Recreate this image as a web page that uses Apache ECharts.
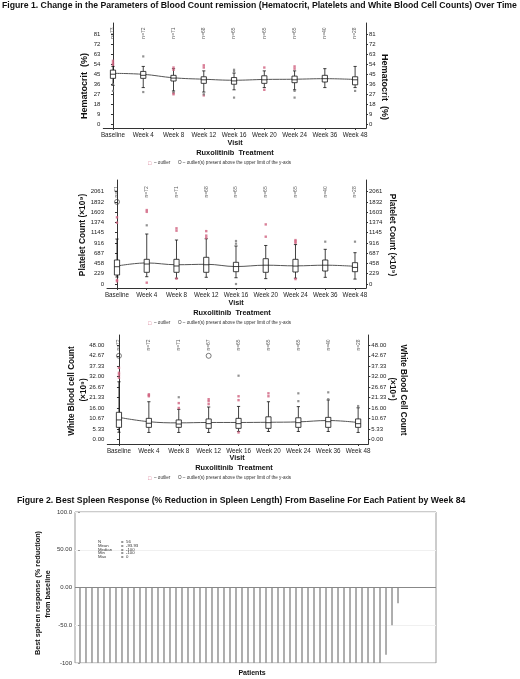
<!DOCTYPE html>
<html><head><meta charset="utf-8">
<script src="https://cdn.jsdelivr.net/npm/echarts@6/dist/echarts.min.js"></script>
<style>html,body{margin:0;padding:0;background:#fff}#c{width:520px;height:679px}</style>
</head><body><div id="c"></div>
<script>
// ---------- DATA ----------
const visits = ['Baseline','Week 4','Week 8','Week 12','Week 16','Week 20','Week 24','Week 36','Week 48'];

// Hematocrit (%) : [lowWhisker, Q1, median, Q3, highWhisker]
const hctBox = [[35,41.3,45,48.7,52],[33,41.3,44,47.5,52],[30,38.9,41.5,44,50],[29,36.8,40,42.7,48],[31,36,39,42,46],[33,36.8,40,43.6,48],[31,37.4,40,43.3,48],[33,38,41,44,50],[33,35.5,40,42.7,52]];
const hctMean = [45.8,44.9,41.8,40.5,39.6,40.3,40.5,41,40.3];
const hctN = [73,72,71,68,65,65,65,40,28];
const hctOutRed = [[0,57],[0,55],[0,53.5],[2,51],[2,49],[2,28],[2,27],[3,53],[3,51],[3,26],[5,51],[5,31],[6,52],[6,50]];
const hctOutGrey = [[0,36],[0,30],[1,61],[1,29],[2,29],[3,27],[4,49],[4,47.5],[4,24],[6,30],[6,24],[8,30]];
const hctTicks = [0,9,18,27,36,45,54,63,72,81];

// Platelet count (x10^9)
const pltBox = [[156,201,386,536,1004],[163,261,446,551,1116],[127,261,402,551,982],[150,261,430,596,1010],[140,275,390,484,848],[120,261,420,565,860],[130,268,400,551,880],[149,290,420,536,774],[110,275,370,476,699]];
const pltMean = [402,470,430,440,390,420,405,420,395];
const pltN = [71,72,71,68,65,65,65,40,28];
const pltOutRed = [[0,1488],[0,1369],[0,90],[0,60],[1,1650],[1,1610],[1,30],[2,1243],[2,1190],[2,120],[3,1180],[3,1080],[3,1030],[5,1330],[5,1056],[6,980],[6,950],[6,920],[6,110]];
const pltOutGrey = [[1,1310],[4,960],[4,900],[4,0],[7,945],[8,945]];
const pltAbove = [[0,1832]];
const pltTicks = [0,229,458,687,916,1145,1374,1603,1832,2061];

// White blood cell count (x10^9)
const wbcBox = [[3.6,6.1,9.9,13.8,29.4],[3.5,6.1,8.2,10.7,19.2],[3.5,6.1,7.8,9.9,15.3],[3.5,5.6,8,10.4,16.5],[4,5.6,8,10.7,16.8],[4,5.6,8.5,11.5,19.2],[4,6.1,8.5,11,16.7],[4,6.1,9,11.2,20.1],[3.5,6.1,8,10.4,16.1]];
const wbcMean = [11.2,9,8.4,8.6,8.6,8.7,8.9,9.6,8.6];
const wbcN = [72,72,71,67,65,65,65,40,28];
const wbcOutRed = [[0,36.5],[0,34],[0,33],[0,31.5],[1,23],[1,22.5],[1,22],[2,18.5],[2,16],[3,20.5],[3,19.5],[3,18],[4,22],[4,20],[4,3.5],[5,23.5],[5,22]];
const wbcOutGrey = [[2,21.5],[4,32.5],[6,23.5],[6,19.5],[7,24],[7,20.5],[8,17]];
const wbcAbove = [[0,42.67],[3,42.67]];
const wbcTicks = [0,16/3,32/3,16,64/3,80/3,32,112/3,128/3,48];

// Figure 2: best spleen response per patient (% reduction)
const spleen = [-100,-100,-100,-100,-100,-100,-100,-100,-100,-100,
  -100,-100,-100,-100,-100,-100,-100,-100,-100,-100,
  -100,-100,-100,-100,-100,-100,-100,-100,-100,-100,
  -100,-100,-100,-100,-100,-100,-100,-100,-100,-100,
  -100,-100,-100,-100,-100,-100,-100,-100,-100,-100,
  -100,-89,-50,-21,0,0];
const spleenTicks = [-100,-50,0,50,100];
const spleenTickLabels = ['-100','-50.0','0.00','50.00','100.0'];
const statNames = ['N','Mean','Median','Min','Max'];
const statValues = ['56','-93.93','-100','-100','0'];

// ---------- CHART ----------
const F = '"Liberation Sans", Arial, sans-serif';
const chart = echarts.init(document.getElementById('c'));

function boxRender(params, api) {
  const x = api.value(0);
  const ys = [1,2,3,4,5].map(i => api.coord([x, api.value(i)])[1]);
  const cx = api.coord([x, api.value(1)])[0];
  const hw = 2.6, cw = 1.6;
  const st = {stroke:'#111', lineWidth:0.8};
  return {type:'group', children:[
    {type:'line', shape:{x1:cx,y1:ys[0],x2:cx,y2:ys[1]}, style:st},
    {type:'line', shape:{x1:cx,y1:ys[3],x2:cx,y2:ys[4]}, style:st},
    {type:'line', shape:{x1:cx-cw,y1:ys[0],x2:cx+cw,y2:ys[0]}, style:st},
    {type:'line', shape:{x1:cx-cw,y1:ys[4],x2:cx+cw,y2:ys[4]}, style:st},
    {type:'rect', shape:{x:cx-hw,y:ys[3],width:hw*2,height:ys[1]-ys[3]}, style:{stroke:'#111',lineWidth:0.8,fill:'#fff'}},
    {type:'line', shape:{x1:cx-hw,y1:ys[2],x2:cx+hw,y2:ys[2]}, style:st}
  ]};
}

const grids = [
  {left:103.3, top:23, width:262.7, height:105},
  {left:107, top:180, width:259, height:108},
  {left:107.3, top:335, width:261, height:109},
  {left:75, top:512, width:361, height:151, show:true, borderColor:'#999', borderWidth:1}
];
const xr = [[-0.32,8.36],[-0.336,8.37],[-0.39,8.34]];
const yr = [[-3.3,91],[-89,2321],[-2.4,53.3]];
const ticks = [hctTicks, pltTicks, wbcTicks];
const yfmt = [v=>String(Math.round(v)), v=>String(Math.round(v)), v=>v.toFixed(2)];
const nY = [82, 2054, 48.2];

const xAxis = [], yAxis = [], series = [];
for (let g = 0; g < 3; g++) {
  xAxis.push({type:'value', gridIndex:g, min:xr[g][0], max:xr[g][1],
    axisLine:{show:true, onZero:false, lineStyle:{color:'#333', width:1}},
    axisTick:{show:true, length:2, customValues:visits.map((v,i)=>i), lineStyle:{color:'#333'}},
    axisLabel:{customValues:visits.map((v,i)=>i), formatter:v=>visits[Math.round(v)], fontSize:6.3, fontFamily:F, color:'#222', margin:4},
    splitLine:{show:false}});
  ['left','right'].forEach(pos => {
    yAxis.push({type:'value', gridIndex:g, position:pos, min:yr[g][0], max:yr[g][1],
      axisLine:{show:true, lineStyle:{color:'#333', width:1}},
      axisTick:{show:true, length:2, customValues:ticks[g], lineStyle:{color:'#333'}},
      axisLabel:{customValues:ticks[g], formatter:yfmt[g], fontSize:6, fontFamily:F, color:'#222', margin:3},
      splitLine:{show:false}});
  });
}
xAxis.push({type:'value', gridIndex:3, min:-0.83, max:59.33, show:false});
yAxis.push({type:'value', gridIndex:3, min:-100, max:100, interval:50,
  axisLine:{show:false}, axisTick:{show:true, length:2, lineStyle:{color:'#999'}},
  axisLabel:{formatter:v=>spleenTickLabels[spleenTicks.indexOf(v)], fontSize:6, fontFamily:F, color:'#333', margin:3},
  splitLine:{show:true, lineStyle:{color:'#f0f0f0', width:1}}});

const boxes = [hctBox, pltBox, wbcBox];
const means = [hctMean, pltMean, wbcMean];
const ns = [hctN, pltN, wbcN];
const reds = [hctOutRed, pltOutRed, wbcOutRed];
const greys = [hctOutGrey, pltOutGrey, wbcOutGrey];
const aboves = [[], pltAbove, wbcAbove];
for (let g = 0; g < 3; g++) {
  const yi = g*2;
  series.push({type:'line', xAxisIndex:g, yAxisIndex:yi, smooth:0.4, symbol:'none', z:2,
    lineStyle:{color:'#555', width:1}, data:means[g].map((v,i)=>[i,v])});
  series.push({type:'custom', xAxisIndex:g, yAxisIndex:yi, z:3, renderItem:boxRender,
    encode:{x:0, y:[1,2,3,4,5]}, data:boxes[g].map((b,i)=>[i].concat(b))});
  series.push({type:'scatter', xAxisIndex:g, yAxisIndex:yi, z:4, symbol:'rect', symbolSize:2.4,
    itemStyle:{color:'#d0607e'}, data:reds[g]});
  series.push({type:'scatter', xAxisIndex:g, yAxisIndex:yi, z:4, symbol:'rect', symbolSize:2.2,
    itemStyle:{color:'#777'}, data:greys[g]});
  series.push({type:'scatter', xAxisIndex:g, yAxisIndex:yi, z:4, symbol:'circle', symbolSize:5,
    itemStyle:{color:'rgba(0,0,0,0)', borderColor:'#333', borderWidth:0.8}, data:aboves[g]});
  series.push({type:'scatter', xAxisIndex:g, yAxisIndex:yi, z:5, symbolSize:1,
    itemStyle:{color:'rgba(0,0,0,0)'},
    label:{show:true, position:'inside', rotate:90, fontSize:5, fontFamily:F, color:'#333',
      formatter:p=>'n='+ns[g][p.dataIndex]},
    data:visits.map((v,i)=>[i,nY[g]])});
}
series.push({type:'bar', xAxisIndex:3, yAxisIndex:6, barWidth:1.6, itemStyle:{color:'#9a9a9a'},
  data:spleen.map((v,i)=>[i,v]),
  markLine:{silent:true, symbol:'none', label:{show:false}, lineStyle:{color:'#888', type:'solid', width:1},
    data:[{yAxis:0}]}});

function txt(x, y, text, size, opts) {
  opts = opts || {};
  return {type:'text', x:x, y:y, rotation:opts.rot||0, silent:true, z:10,
    style:{text:text, font:(opts.bold?'bold ':'')+size+'px '+F, fill:opts.color||'#111',
      align:opts.align||'center', textAlign:opts.align||'center',
      verticalAlign:'middle', textVerticalAlign:'middle'}};
}
const up = Math.PI/2, down = -Math.PI/2;
const graphic = [
  txt(2, 6, 'Figure 1. Change in the Parameters of Blood Count remission (Hematocrit, Platelets and White Blood Cell Counts) Over Time', 8.7, {bold:true, align:'left'}),
  // panel 1
  txt(85, 86, 'Hematocrit  (%)', 9, {bold:true, rot:up}),
  txt(384, 87, 'Hematocrit  (%)', 9, {bold:true, rot:down}),
  txt(235, 143, 'Visit', 7.2, {bold:true}),
  txt(235, 153, 'Ruxolitinib  Treatment', 7.4, {bold:true}),
  // panel 2
  txt(83, 235, 'Platelet Count (×10⁹)', 8.4, {bold:true, rot:up}),
  txt(392, 235, 'Platelet Count (×10⁹)', 8.4, {bold:true, rot:down}),
  txt(236, 303, 'Visit', 7.2, {bold:true}),
  txt(232, 313, 'Ruxolitinib  Treatment', 7.4, {bold:true}),
  // panel 3
  txt(72, 391, 'White Blood cell Count', 8.2, {bold:true, rot:up}),
  txt(84, 390, '(×10⁹)', 8.2, {bold:true, rot:up}),
  txt(403, 390, 'White Blood Cell Count', 8.2, {bold:true, rot:down}),
  txt(392, 389, '(×10⁹)', 8.2, {bold:true, rot:down}),
  txt(237, 458, 'Visit', 7.2, {bold:true}),
  txt(234, 468, 'Ruxolitinib  Treatment', 7.4, {bold:true}),
  // figure 2
  txt(17, 501, 'Figure 2. Best Spleen Response (% Reduction in Spleen Length) From Baseline For Each Patient by Week 84', 8.7, {bold:true, align:'left'}),
  txt(38, 593, 'Best spleen response (% reduction)', 7.3, {bold:true, rot:up}),
  txt(48, 594, 'from baseline', 7.3, {bold:true, rot:up}),
  txt(252, 673, 'Patients', 7, {bold:true})
];
[163, 323, 478].forEach(y => {
  graphic.push(txt(148, y, '□', 5.5, {align:'left', color:'#d0607e'}));
  graphic.push(txt(154, y, '– outlier      O – outlier(s) present above the upper limit of the y-axis', 4.6, {align:'left', color:'#333'}));
});
statNames.forEach((s, i) => {
  const y = 542 + i*3.7;
  graphic.push(txt(98, y, s, 4.3, {align:'left', color:'#333'}));
  graphic.push(txt(121, y, '=', 4.3, {align:'left', color:'#333'}));
  graphic.push(txt(126, y, statValues[i], 4.3, {align:'left', color:'#333'}));
});

chart.setOption({
  animation:false,
  backgroundColor:'#fff',
  grid:grids, xAxis:xAxis, yAxis:yAxis, series:series, graphic:graphic
});
</script></body></html>
